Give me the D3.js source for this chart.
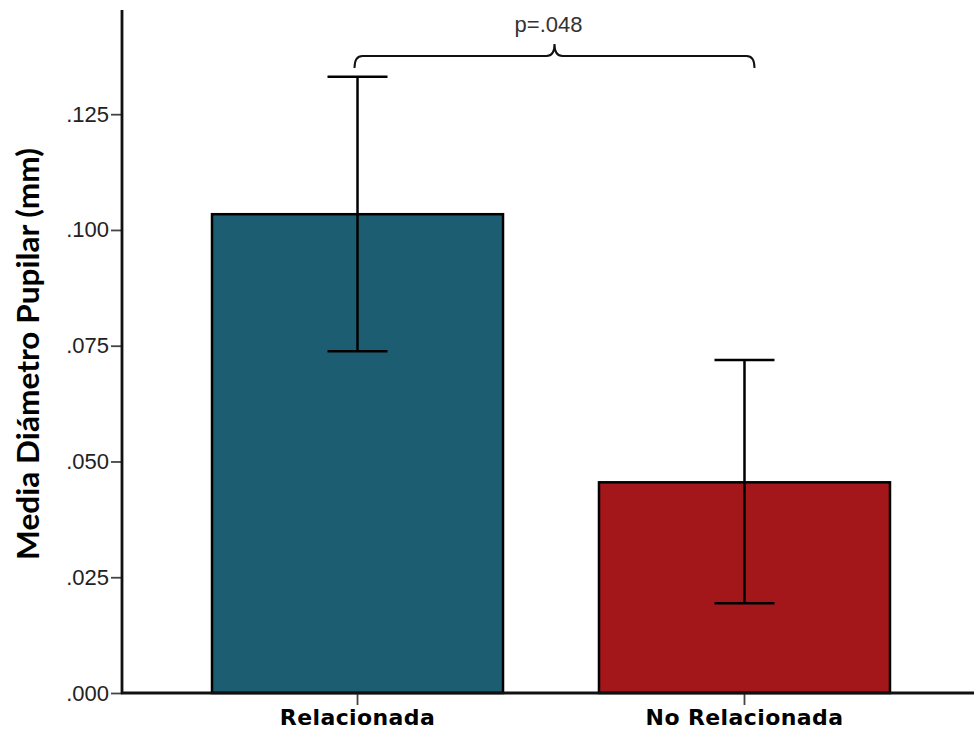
<!DOCTYPE html>
<html>
<head>
<meta charset="utf-8">
<script src="https://cdn.jsdelivr.net/npm/d3@7"></script>
<style>
  html, body { margin: 0; padding: 0; background: #fff; }
  svg { display: block; }
</style>
</head>
<body>
<svg id="chart" width="974" height="737"></svg>
<script>
const categories = ["Relacionada", "No Relacionada"];
const means = [0.1034, 0.0455];
const ciLow = [0.0738, 0.0194];
const ciHigh = [0.1331, 0.0719];
const yTicks = [0, 0.025, 0.05, 0.075, 0.1, 0.125];
const colors = ["#1d5d72", "#a3171b"];
const yTitle = "Media Diámetro Pupilar (mm)";
const pLabel = "p=.048";

const svg = d3.select("#chart");
const x = d3.scaleBand().domain(categories).range([122, 980])
  .paddingInner(0.248).paddingOuter(0.2326);
const y = d3.scaleLinear().domain([0, 0.1475]).range([693, 10]);

// bars
svg.selectAll("rect.bar").data(categories).enter().append("rect")
  .attr("x", d => x(d))
  .attr("y", (d, i) => y(means[i]))
  .attr("width", x.bandwidth())
  .attr("height", (d, i) => y(0) - y(means[i]))
  .attr("fill", (d, i) => colors[i])
  .attr("stroke", "#000")
  .attr("stroke-width", 2.5);

// error bars
const capW = 60;
const eg = svg.append("g").attr("stroke", "#000").attr("stroke-width", 2.5);
categories.forEach((c, i) => {
  const cx = x(c) + x.bandwidth() / 2;
  eg.append("line").attr("x1", cx).attr("x2", cx).attr("y1", y(ciLow[i])).attr("y2", y(ciHigh[i]));
  eg.append("line").attr("x1", cx - capW / 2).attr("x2", cx + capW / 2).attr("y1", y(ciLow[i])).attr("y2", y(ciLow[i]));
  eg.append("line").attr("x1", cx - capW / 2).attr("x2", cx + capW / 2).attr("y1", y(ciHigh[i])).attr("y2", y(ciHigh[i]));
});

// y axis
const yAxis = d3.axisLeft(y).tickValues(yTicks).tickSize(11).tickPadding(2)
  .tickFormat(d => d3.format(".3f")(d).replace(/^0/, ""));
const yg = svg.append("g").attr("transform", "translate(122,0)").call(yAxis);
yg.select(".domain").remove();
yg.selectAll(".tick line").attr("stroke", "#444").attr("stroke-width", 1.8);
yg.selectAll(".tick text").attr("font-family", "Liberation Sans, Arial, sans-serif")
  .attr("font-size", 22).attr("fill", "#222");
svg.append("line").attr("x1", 122).attr("x2", 122).attr("y1", 10).attr("y2", 694)
  .attr("stroke", "#111").attr("stroke-width", 2.8);

// x axis
const xAxis = d3.axisBottom(x).tickSize(12).tickPadding(4);
const xg = svg.append("g").attr("transform", "translate(0,693)").call(xAxis);
xg.select(".domain").remove();
xg.selectAll(".tick line").attr("stroke", "#444").attr("stroke-width", 1.8);
xg.selectAll(".tick text").attr("font-family", "DejaVu Sans, Verdana, sans-serif")
  .attr("font-size", 22).attr("fill", "#000").attr("font-weight", "bold")
  .attr("letter-spacing", 0.4).attr("dy", "0.72em");
svg.append("line").attr("x1", 121).attr("x2", 974).attr("y1", 693).attr("y2", 693)
  .attr("stroke", "#111").attr("stroke-width", 2.8);

// y title
svg.append("text")
  .attr("transform", "translate(39,354) rotate(-90)")
  .attr("text-anchor", "middle")
  .attr("font-family", "Lato, Open Sans, sans-serif")
  .attr("font-weight", "bold")
  .attr("font-size", 30)
  .attr("textLength", 412)
  .attr("lengthAdjust", "spacingAndGlyphs")
  .attr("fill", "#000")
  .text(yTitle);

// bracket
const bx1 = x(categories[0]) + x.bandwidth() / 2 - 3;
const bx2 = x(categories[1]) + x.bandwidth() / 2 + 10;
const bm = (bx1 + bx2) / 2;
const by = 56, bEnd = 68, bPeak = 44, r = 8;
const path = d3.path();
path.moveTo(bx1, bEnd);
path.quadraticCurveTo(bx1, by, bx1 + r, by);
path.lineTo(bm - r, by);
path.quadraticCurveTo(bm, by, bm, bPeak);
path.quadraticCurveTo(bm, by, bm + r, by);
path.lineTo(bx2 - r, by);
path.quadraticCurveTo(bx2, by, bx2, bEnd);
svg.append("path").attr("d", path.toString()).attr("fill", "none")
  .attr("stroke", "#111").attr("stroke-width", 2);

svg.append("text").attr("x", bm - 6).attr("y", 32).attr("text-anchor", "middle")
  .attr("font-family", "Liberation Sans, Arial, sans-serif").attr("font-size", 22)
  .attr("fill", "#333").text(pLabel);
</script>
</body>
</html>
